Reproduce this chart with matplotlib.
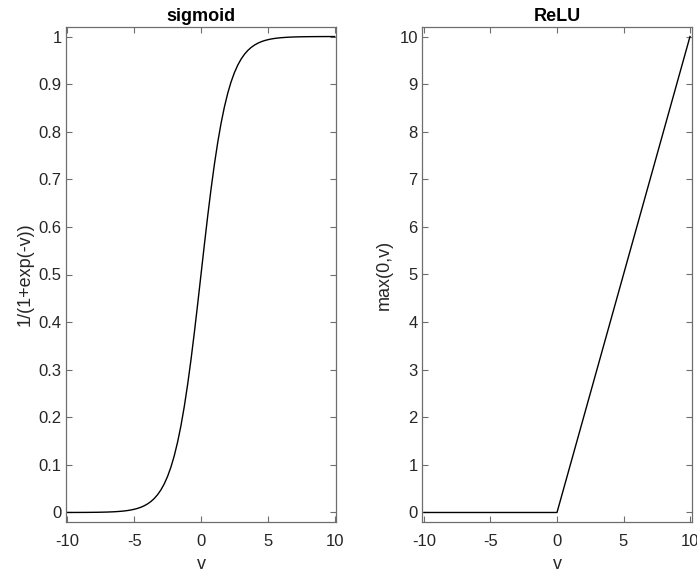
import matplotlib
matplotlib.use("Agg")
import matplotlib.pyplot as plt

plt.rcParams['font.family'] = ['Liberation Sans', 'DejaVu Sans']

# Sigmoid samples: step 0.5 in the flat tails, 0.25 through the transition
v_sig = [-10.0, -9.5, -9.0, -8.5, -8.0, -7.5, -7.0, -6.5, -6.0,
         -5.75, -5.5, -5.25, -5.0, -4.75, -4.5, -4.25, -4.0, -3.75, -3.5,
         -3.25, -3.0, -2.75, -2.5, -2.25, -2.0, -1.75, -1.5, -1.25, -1.0,
         -0.75, -0.5, -0.25, 0.0, 0.25, 0.5, 0.75, 1.0, 1.25, 1.5, 1.75,
         2.0, 2.25, 2.5, 2.75, 3.0, 3.25, 3.5, 3.75, 4.0, 4.25, 4.5, 4.75,
         5.0, 5.25, 5.5, 5.75, 6.0,
         6.5, 7.0, 7.5, 8.0, 8.5, 9.0, 9.5, 10.0]
sig_vals = [0.00005, 0.00007, 0.00012, 0.00020, 0.00034, 0.00055, 0.00091,
            0.00150, 0.00247,
            0.00317, 0.00407, 0.00522, 0.00669, 0.00858, 0.01099, 0.01406,
            0.01799, 0.02298, 0.02931, 0.03733, 0.04743, 0.06009, 0.07586,
            0.09535, 0.11920, 0.14805, 0.18243, 0.22270, 0.26894, 0.32082,
            0.37754, 0.43782, 0.50000, 0.56218, 0.62246, 0.67918, 0.73106,
            0.77730, 0.81757, 0.85195, 0.88080, 0.90465, 0.92414, 0.93991,
            0.95257, 0.96267, 0.97069, 0.97702, 0.98201, 0.98594, 0.98901,
            0.99142, 0.99331, 0.99478, 0.99593, 0.99683, 0.99753,
            0.99850, 0.99909, 0.99945, 0.99966, 0.99980, 0.99988, 0.99993,
            0.99995]

# ReLU breakpoints
v_relu = [-10, 0, 10]
relu_vals = [0, 0, 10]

x_ticks = [-10, -5, 0, 5, 10]
sig_ticks = [0, 0.1, 0.2, 0.3, 0.4, 0.5, 0.6, 0.7, 0.8, 0.9, 1]
sig_tick_labels = ['0', '0.1', '0.2', '0.3', '0.4', '0.5', '0.6', '0.7', '0.8', '0.9', '1']
relu_ticks = [0, 1, 2, 3, 4, 5, 6, 7, 8, 9, 10]

W, H = 697, 574
fig = plt.figure(figsize=(W / 100, H / 100), dpi=100)
fig.patch.set_facecolor('white')

ax1 = fig.add_axes([66 / W, 1 - 522 / H, 270 / W, 495 / H])
ax2 = fig.add_axes([422 / W, 1 - 522 / H, 270 / W, 495 / H])

spine_col = '#6e6e6e'
text_col = '#262626'


def style(ax):
    for s in ax.spines.values():
        s.set_color(spine_col)
        s.set_linewidth(0.9)
    ax.tick_params(direction='in', length=4.5, width=0.8, color=spine_col,
                   labelcolor=text_col, labelsize=12, top=True, right=True)
    ax.tick_params(axis='x', pad=8.5)
    ax.tick_params(axis='y', pad=3)


ax1.plot(v_sig, sig_vals, color='black', linewidth=1.0)
ax1.set_xlim(-10.1, 10.1)
ax1.set_ylim(-0.02, 1.02)
ax1.set_xticks(x_ticks)
ax1.set_xticklabels([str(t) for t in x_ticks])
ax1.set_yticks(sig_ticks)
ax1.set_yticklabels(sig_tick_labels)
ax1.set_title('sigmoid', fontsize=13, fontweight='bold', color='black', pad=4.5)
ax1.set_xlabel('v', fontsize=13, color=text_col, labelpad=5)
ax1.set_ylabel('1/(1+exp(-v))', fontsize=13, color=text_col, labelpad=4)
style(ax1)

ax2.plot(v_relu, relu_vals, color='black', linewidth=1.0)
ax2.set_xlim(-10.15, 10.15)
ax2.set_ylim(-0.2, 10.2)
ax2.set_xticks(x_ticks)
ax2.set_xticklabels([str(t) for t in x_ticks])
ax2.set_yticks(relu_ticks)
ax2.set_yticklabels([str(t) for t in relu_ticks])
ax2.set_title('ReLU', fontsize=13, fontweight='bold', color='black', pad=4.5)
ax2.set_xlabel('v', fontsize=13, color=text_col, labelpad=5)
ax2.set_ylabel('max(0,v)', fontsize=13, color=text_col, labelpad=5)
style(ax2)

fig.savefig('out.png', dpi=100, facecolor='white')
